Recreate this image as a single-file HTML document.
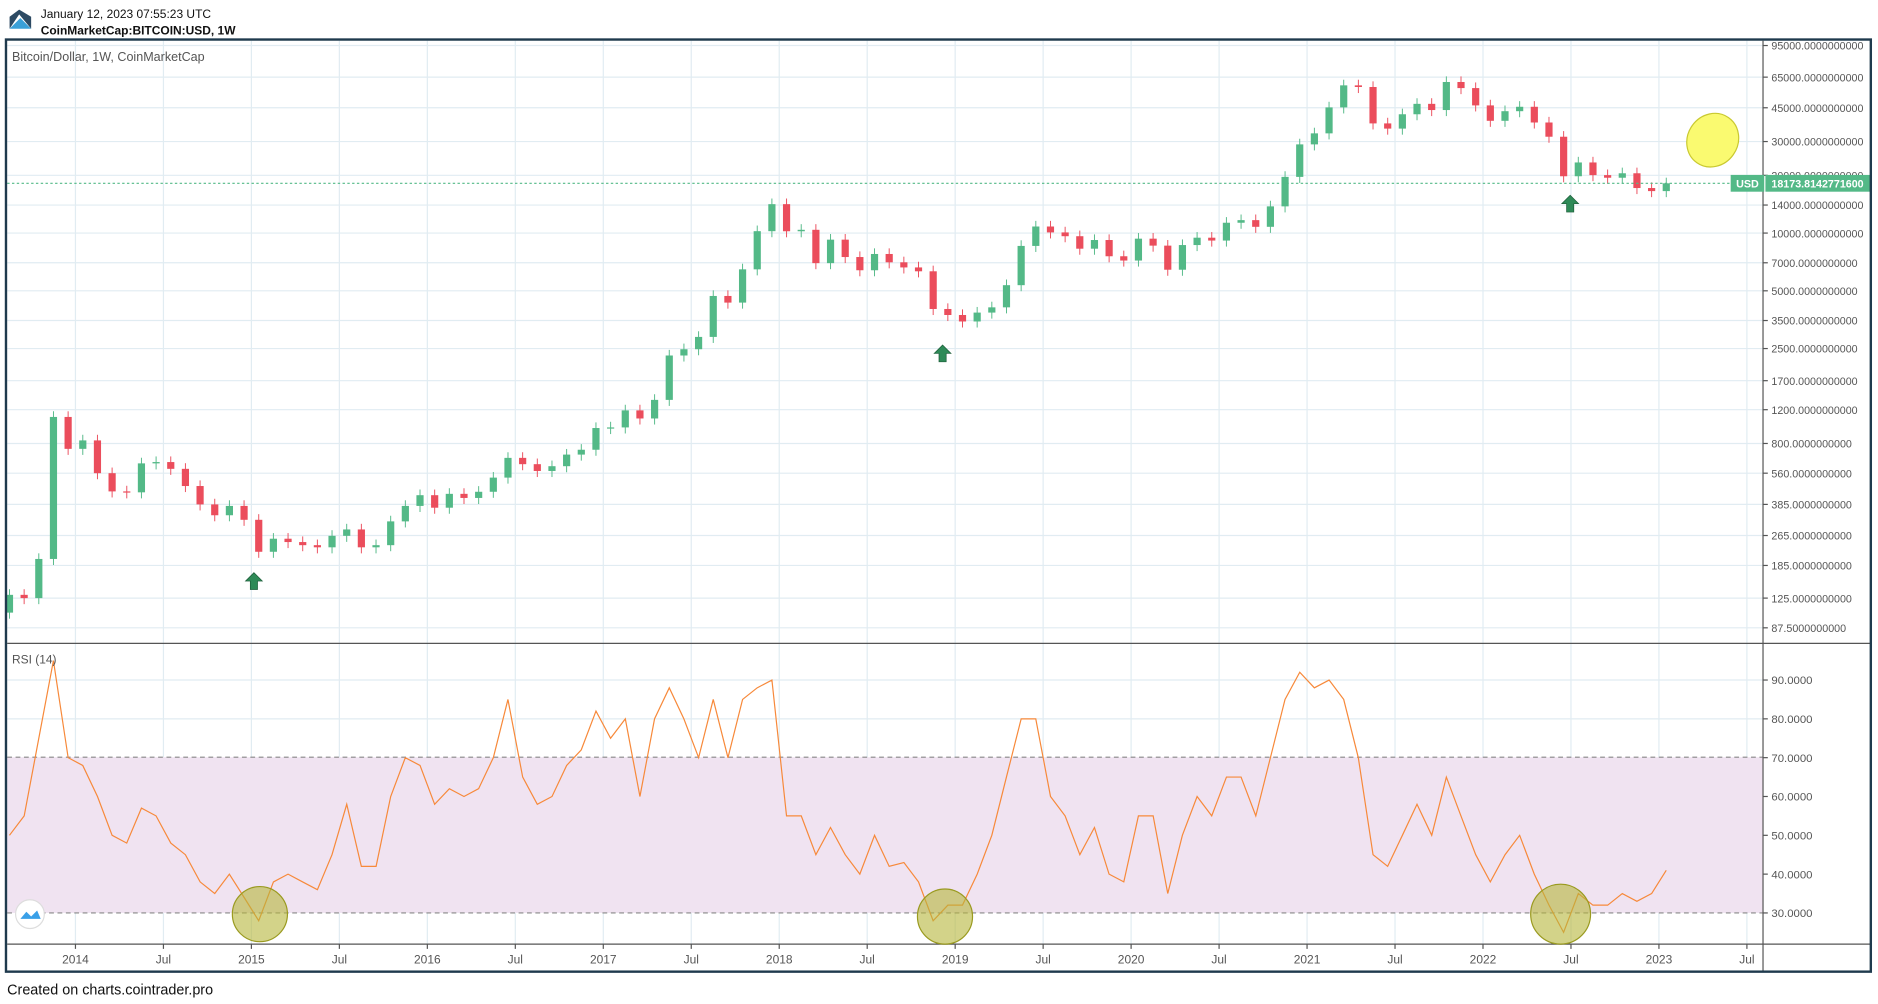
<!DOCTYPE html>
<html><head><meta charset="utf-8"><style>
html,body{margin:0;padding:0;background:#fff;width:1878px;height:1004px;overflow:hidden}
svg{display:block}
text{font-family:"Liberation Sans",sans-serif}
</style></head><body>
<svg id="chart" width="1878" height="1004" viewBox="0 0 1568 838" preserveAspectRatio="none" xmlns="http://www.w3.org/2000/svg">
<g>
<polygon points="8,24 16,12 26,24 26,14 16,8 8,14" fill="#2d4a63"/>
<polygon points="8,24 17,15 26,24" fill="#3aa0d8"/>
<text x="34" y="15" font-size="10" fill="#111">January 12, 2023 07:55:23 UTC</text>
<text x="34" y="29" font-size="10" font-weight="bold" fill="#111">CoinMarketCap:BITCOIN:USD, 1W</text>
</g>
<g id="grid"></g>
<rect x="6" y="632" width="1466" height="130" fill="#f0e3f1"/>
<line x1="6" y1="632" x2="1472" y2="632" stroke="#888" stroke-dasharray="4,3"/>
<line x1="6" y1="762" x2="1472" y2="762" stroke="#888" stroke-dasharray="4,3"/>
<g id="candles"></g>
<path id="rsiline" fill="none" stroke="#f7893a" stroke-width="1"/>
<g id="axes"></g>
<line x1="6" y1="153" x2="1445" y2="153" stroke="#53b987" stroke-dasharray="2,2"/>
<rect x="1445" y="146" width="28" height="14" fill="#53b987"/>
<text x="1459" y="156.5" font-size="9" fill="#fff" font-weight="bold" text-anchor="middle">USD</text>
<rect x="1474" y="146" width="88" height="14" fill="#53b987"/>
<text x="1479" y="156.5" font-size="9" fill="#fff" font-weight="bold" textLength="77" lengthAdjust="spacingAndGlyphs">18173.8142771600</text>
<text x="10" y="51" font-size="10.5" fill="#555">Bitcoin/Dollar, 1W, CoinMarketCap</text>
<text x="10" y="554" font-size="10" fill="#555">RSI (14)</text>
<g>
<path d="M212,478 l7,7 h-4 v7 h-6 v-7 h-4z" fill="#2e8a57" stroke="#1e5e3a" stroke-width="0.6"/>
<path d="M787,288 l7,7 h-4 v7 h-6 v-7 h-4z" fill="#2e8a57" stroke="#1e5e3a" stroke-width="0.6"/>
<path d="M1311,163 l7,7 h-4 v7 h-6 v-7 h-4z" fill="#2e8a57" stroke="#1e5e3a" stroke-width="0.6"/>
<ellipse cx="1430" cy="117" rx="21" ry="23" transform="rotate(35 1430 117)" fill="#fafa70" stroke="#c9c930"/>
<circle cx="217" cy="763" r="23" fill="#b5b53a" fill-opacity="0.6" stroke="#9a9a20"/>
<circle cx="789" cy="765" r="23" fill="#b5b53a" fill-opacity="0.6" stroke="#9a9a20"/>
<circle cx="1303" cy="763" r="25" fill="#b5b53a" fill-opacity="0.6" stroke="#9a9a20"/>
<circle cx="25" cy="763" r="12" fill="#fff" stroke="#ddd"/>
<path d="M17,767 l5,-6 l4,4 l5,-5 l3,7z" fill="#3aa0e8"/>
</g>
<rect x="5" y="33" width="1557" height="778" fill="none" stroke="#1f3a4d" stroke-width="2"/>
<text x="6" y="830" font-size="12" fill="#111">Created on charts.cointrader.pro</text>
</svg>
<script>
// monthly closes starting Aug 2013
const startOpen = 105;
const closes = [130,125,200,1100,750,
830,560,450,445,630,640,590,480,385,338,378,320,
218,255,245,236,230,264,285,230,236,314,378,430,
370,437,416,448,531,673,624,575,609,700,742,963,
970,1190,1080,1350,2300,2480,2875,4700,4340,6470,10230,14150,
10220,10400,6970,9240,7500,6400,7780,7040,6620,6320,4020,3740,
3460,3850,4100,5350,8570,10820,10080,9630,8290,9200,7570,7190,
9350,8600,6440,8660,9460,9140,11320,11680,10780,13780,19630,29000,
33100,45200,58900,57750,37300,35040,41630,47170,43790,61320,57000,46300,
38480,43190,45540,37710,31790,19780,23340,20050,19430,20500,17170,16550,18170];
const rsiValues = [50,55,75,95,70,
68,60,50,48,57,55,48,45,38,35,40,34,
28,38,40,38,36,45,58,42,42,60,70,68,
58,62,60,62,70,85,65,58,60,68,72,82,
75,80,60,80,88,80,70,85,70,85,88,90,
55,55,45,52,45,40,50,42,43,38,28,32,
32,40,50,65,80,80,60,55,45,52,40,38,
55,55,35,50,60,55,65,65,55,70,85,92,
88,90,85,70,45,42,50,58,50,65,55,45,
38,45,50,40,32,25,35,32,32,35,33,35,41];
const priceTicks = [95000,65000,45000,30000,20000,14000,10000,7000,5000,3500,2500,1700,1200,800,560,385,265,185,125,87.5];
const rsiTicks = [30,40,50,60,70,80,90];
const timeTicks = [[2014,"2014"],[2014.5,"Jul"],[2015,"2015"],[2015.5,"Jul"],[2016,"2016"],[2016.5,"Jul"],[2017,"2017"],[2017.5,"Jul"],[2018,"2018"],[2018.5,"Jul"],[2019,"2019"],[2019.5,"Jul"],[2020,"2020"],[2020.5,"Jul"],[2021,"2021"],[2021.5,"Jul"],[2022,"2022"],[2022.5,"Jul"],[2023,"2023"],[2023.5,"Jul"]];

const NS="http://www.w3.org/2000/svg";
function xT(t){return 63+(t-2014)*146.9;}
function xI(i){return xT(2013+7/12+(i+0.5)/12);}
function yP(p){return 38+(Math.log10(95000)-Math.log10(p))*160.1;}
function yR(v){return 762-(v-30)*3.24;}
function mk(tag,attrs,parent){const e=document.createElementNS(NS,tag);for(const k in attrs)e.setAttribute(k,attrs[k]);parent.appendChild(e);return e;}
const grid=document.getElementById('grid'),axes=document.getElementById('axes'),cg=document.getElementById('candles');
timeTicks.forEach(([t,l])=>{
  const x=xT(t);
  const g=mk('line',{x1:x,x2:x,y1:34,y2:788,stroke:'#e1ecf2'},grid);
  
  
  mk('line',{x1:x,x2:x,y1:788,y2:792,stroke:'#555'},axes);
  const tx=mk('text',{x:x,y:804,'font-size':10,fill:'#555','text-anchor':'middle'},axes);
  tx.textContent=l;
  
  
});
priceTicks.forEach(p=>{
  const y=yP(p);
  const g=mk('line',{x1:6,x2:1472,y1:y,y2:y,stroke:'#e1ecf2'},grid);
  
  
  mk('line',{x1:1472,x2:1476,y1:y,y2:y,stroke:'#555'},axes);
  const s=p.toFixed(10);
  const tx=mk('text',{x:1479,y:y+3.5,'font-size':9.5,fill:'#555',textLength:s.length*4.8,lengthAdjust:'spacingAndGlyphs'},axes);
  tx.textContent=s;
  
  
});
rsiTicks.forEach(v=>{
  const y=yR(v);
  if(v!=30&&v!=70){const g=mk('line',{x1:6,x2:1472,y1:y,y2:y,stroke:'#e1ecf2'},grid);
  
  }
  mk('line',{x1:1472,x2:1476,y1:y,y2:y,stroke:'#555'},axes);
  const tx=mk('text',{x:1479,y:y+3.5,'font-size':9.5,fill:'#555'},axes);
  tx.textContent=v.toFixed(4);
  
  
});
mk('line',{x1:1472,x2:1472,y1:34,y2:811,stroke:'#555'},axes);
mk('line',{x1:6,x2:1562,y1:537,y2:537,stroke:'#555'},axes);
mk('line',{x1:6,x2:1562,y1:788,y2:788,stroke:'#555'},axes);
let prev=startOpen;
closes.forEach((c,i)=>{
  const o=prev; prev=c;
  const up=c>=o, col=up?'#53b987':'#eb4d5c';
  const x=xI(i), hi=Math.max(o,c)*1.07, lo=Math.min(o,c)*0.93;
  const w=mk('line',{x1:x,x2:x,y1:yP(hi),y2:yP(lo),stroke:col,'stroke-width':0.8},cg);
  
  
  const yt=yP(Math.max(o,c)), yb=yP(Math.min(o,c));
  const b=mk('rect',{x:x-3,y:yt,width:6,height:Math.max(1,yb-yt),fill:col},cg);
  
  
});
document.getElementById('rsiline').setAttribute('d',rsiValues.map((v,i)=>(i?'L':'M')+xI(i).toFixed(1)+','+yR(v).toFixed(1)).join(''));
</script>
</body></html>
